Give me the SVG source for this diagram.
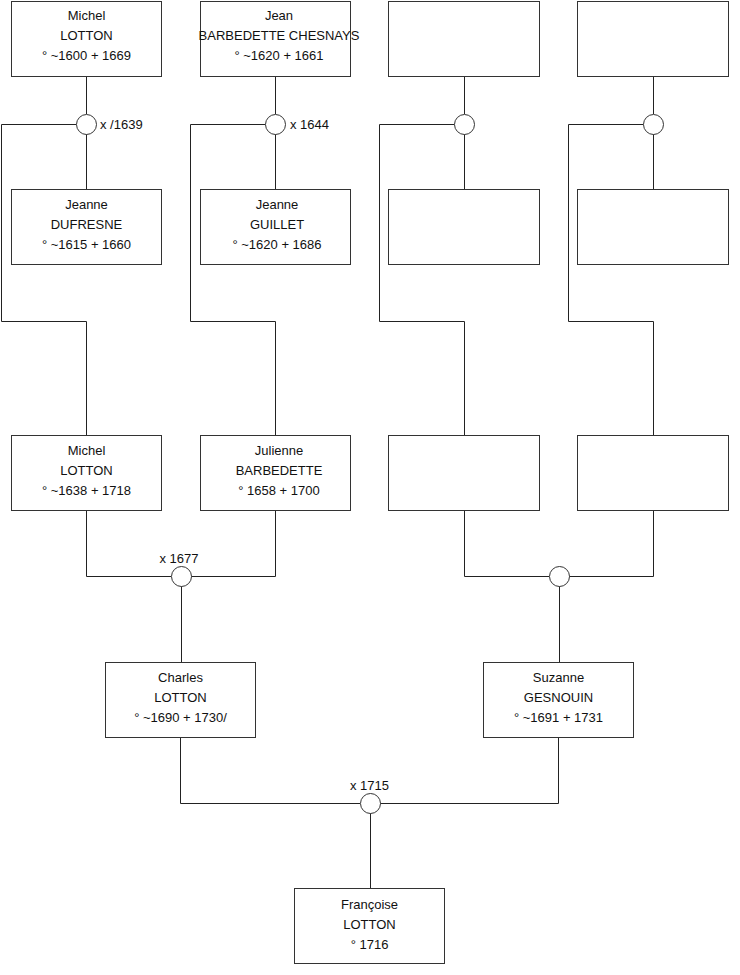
<svg xmlns="http://www.w3.org/2000/svg" width="740" height="975" viewBox="0 0 740 975">
<style>
.box{fill:#fff;stroke:#333;stroke-width:1}
.ln{fill:none;stroke:#222;stroke-width:1}
.c{fill:#fff;stroke:#333;stroke-width:1}
text{font-family:"Liberation Sans",Arial,sans-serif;font-size:13px;fill:#111}
.m{text-anchor:middle}
</style>
<rect width="740" height="975" fill="#fff"/>
<g id="connectors">
<path class="ln" d="M86.5 76V114M86.5 134V189M76.5 124.5H1.5V321.5H86.5V435"/>
<path class="ln" d="M275.5 76V114M275.5 134V189M265.5 124.5H190.5V321.5H275.5V435"/>
<path class="ln" d="M464.5 76V114M464.5 134V189M454.5 124.5H379.5V321.5H464.5V435"/>
<path class="ln" d="M653.5 76V114M653.5 134V189M643.5 124.5H568.5V321.5H653.5V435"/>
<path class="ln" d="M86.5 511V576.5H171M191 576.5H275.5V511M181.5 586V662"/>
<path class="ln" d="M464.5 511V576.5H549M569 576.5H653.5V511M559.5 586V662"/>
<path class="ln" d="M180.5 737V803.5H360M380 803.5H558.5V737M370.5 813V888"/>
</g>
<g id="unions">
<circle class="c" cx="86.5" cy="124.5" r="10"/>
<circle class="c" cx="275.5" cy="124.5" r="10"/>
<circle class="c" cx="464.5" cy="124.5" r="10"/>
<circle class="c" cx="653.5" cy="124.5" r="10"/>
<circle class="c" cx="181.5" cy="576.5" r="10"/>
<circle class="c" cx="559.5" cy="576.5" r="10"/>
<circle class="c" cx="370.5" cy="803.5" r="10"/>
<text x="100" y="128.5">x /1639</text>
<text x="290" y="128.5">x 1644</text>
<text class="m" x="179" y="563">x 1677</text>
<text class="m" x="369.5" y="790">x 1715</text>
</g>
<g id="n1"><rect class="box" x="11.5" y="1.5" width="150" height="75"/>
<text class="m" x="86.5" y="20">Michel</text><text class="m" x="86.5" y="39.5">LOTTON</text><text class="m" x="86.5" y="59.5">° ~1600 + 1669</text></g>
<g id="n2"><rect class="box" x="200.5" y="1.5" width="150" height="75"/>
<text class="m" x="279" y="20">Jean</text><text class="m" x="279" y="39.5">BARBEDETTE CHESNAYS</text><text class="m" x="279" y="59.5">° ~1620 + 1661</text></g>
<g id="n3"><rect class="box" x="388.5" y="1.5" width="151" height="75"/></g>
<g id="n4"><rect class="box" x="577.5" y="1.5" width="151" height="75"/></g>
<g id="n5"><rect class="box" x="11.5" y="189.5" width="150" height="75"/>
<text class="m" x="86.5" y="209">Jeanne</text><text class="m" x="86.5" y="229">DUFRESNE</text><text class="m" x="86.5" y="249">° ~1615 + 1660</text></g>
<g id="n6"><rect class="box" x="200.5" y="189.5" width="150" height="75"/>
<text class="m" x="277" y="209">Jeanne</text><text class="m" x="277" y="229">GUILLET</text><text class="m" x="277" y="249">° ~1620 + 1686</text></g>
<g id="n7"><rect class="box" x="388.5" y="189.5" width="151" height="75"/></g>
<g id="n8"><rect class="box" x="577.5" y="189.5" width="151" height="75"/></g>
<g id="n9"><rect class="box" x="11.5" y="435.5" width="150" height="75"/>
<text class="m" x="86.5" y="454.5">Michel</text><text class="m" x="86.5" y="474.5">LOTTON</text><text class="m" x="86.5" y="494.5">° ~1638 + 1718</text></g>
<g id="n10"><rect class="box" x="200.5" y="435.5" width="150" height="75"/>
<text class="m" x="279" y="454.5">Julienne</text><text class="m" x="279" y="474.5">BARBEDETTE</text><text class="m" x="279" y="494.5">° 1658 + 1700</text></g>
<g id="n11"><rect class="box" x="388.5" y="435.5" width="151" height="75"/></g>
<g id="n12"><rect class="box" x="577.5" y="435.5" width="151" height="75"/></g>
<g id="n13"><rect class="box" x="105.5" y="662.5" width="150" height="75"/>
<text class="m" x="180.5" y="681.5">Charles</text><text class="m" x="180.5" y="701.5">LOTTON</text><text class="m" x="180.5" y="721.5">° ~1690 + 1730/</text></g>
<g id="n14"><rect class="box" x="483.5" y="662.5" width="150" height="75"/>
<text class="m" x="558.5" y="681.5">Suzanne</text><text class="m" x="558.5" y="701.5">GESNOUIN</text><text class="m" x="558.5" y="721.5">° ~1691 + 1731</text></g>
<g id="n15"><rect class="box" x="294.5" y="888.5" width="150" height="75"/>
<text class="m" x="369.5" y="909">Françoise</text><text class="m" x="369.5" y="929">LOTTON</text><text class="m" x="369.5" y="949">° 1716</text></g>
</svg>
